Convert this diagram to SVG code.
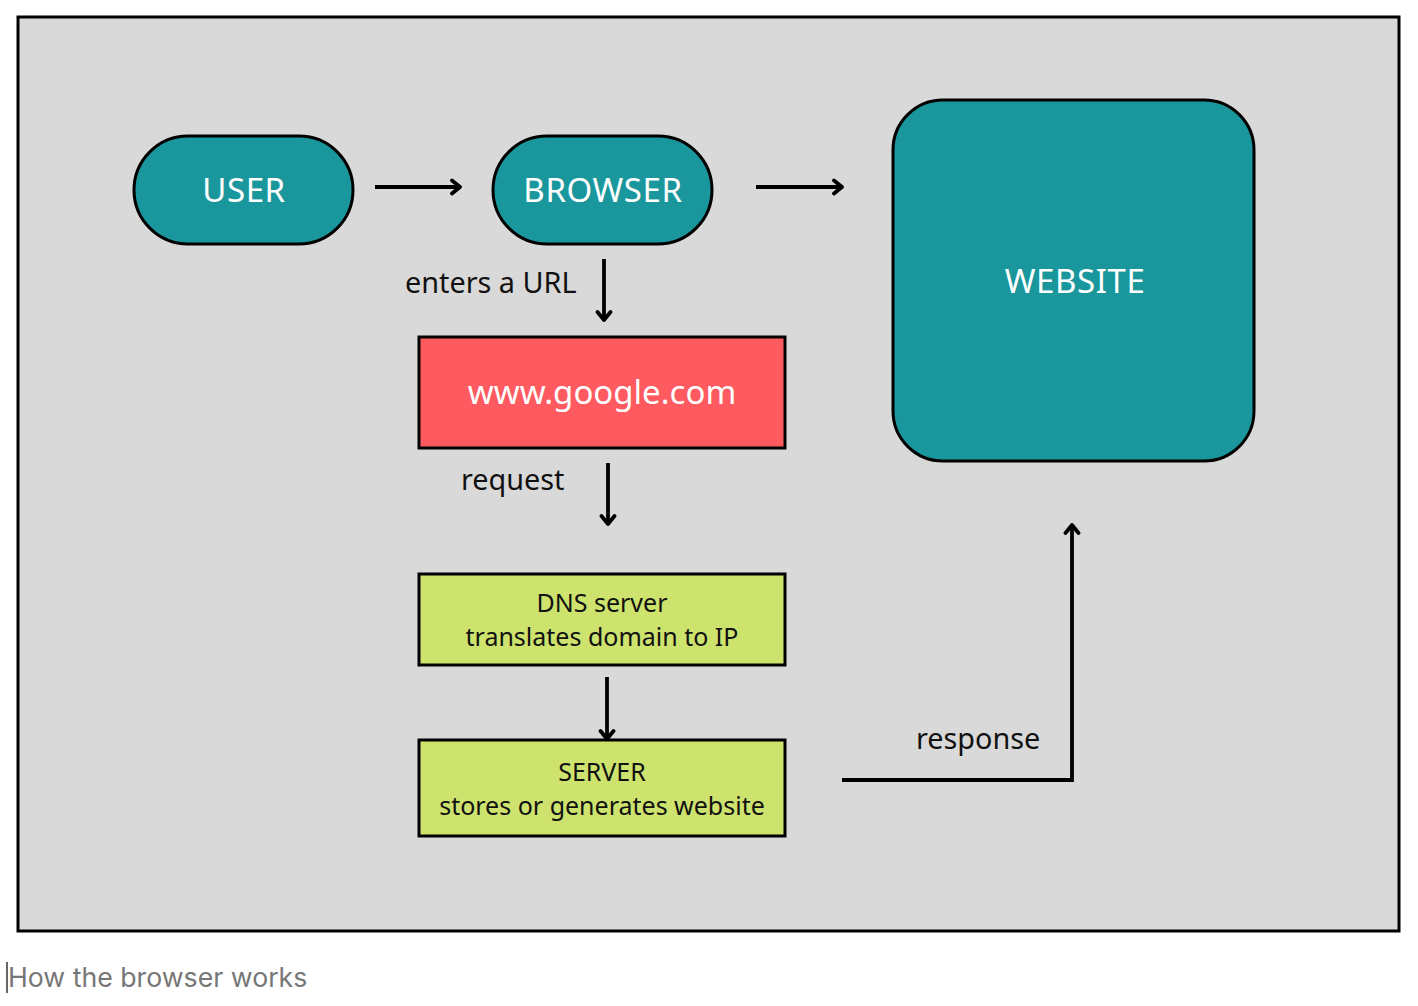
<svg xmlns="http://www.w3.org/2000/svg" width="1418" height="1006" viewBox="0 0 1418 1006">
<style>
.lbl{font-family:"Noto Sans","Open Sans",sans-serif;fill:#111;font-size:28.8px}
.wt{font-family:"Noto Sans","Open Sans",sans-serif;fill:#fff;font-size:33px;text-anchor:middle}
.caps{letter-spacing:0.6px}
.bt{font-family:"Noto Sans","Open Sans",sans-serif;fill:#111;font-size:25px;text-anchor:middle}
.teal{fill:#1a979c;stroke:#000;stroke-width:3}
.box{stroke:#000;stroke-width:3}
.conn{stroke:#000;stroke-width:3.8;fill:none}
</style>
<defs>
<marker id="ah" viewBox="0 0 14 18" refX="12" refY="9" markerWidth="14" markerHeight="18" markerUnits="userSpaceOnUse" orient="auto">
<path d="M4,2.5 L12,9 L4,15.5" fill="none" stroke="#000" stroke-width="3.8" stroke-linecap="round" stroke-linejoin="round"/>
</marker>
</defs>
<rect x="0" y="0" width="1418" height="1006" fill="#fff"/>
<rect x="18" y="17" width="1381" height="914" fill="#d9d9d9" stroke="#000" stroke-width="3"/>
<g id="user"><rect class="teal" x="134" y="136" width="219" height="108" rx="54"/><text class="wt caps" x="244" y="202">USER</text></g>
<g id="browser"><rect class="teal" x="493" y="136" width="219" height="108" rx="54"/><text class="wt caps" x="603" y="202">BROWSER</text></g>
<g id="website"><rect class="teal" x="893" y="100" width="361" height="361" rx="50"/><text class="wt caps" x="1075" y="293">WEBSITE</text></g>
<g id="url"><rect class="box" fill="#fe5a5f" x="419" y="337" width="366" height="111"/><text class="wt" x="602" y="404">www.google.com</text></g>
<g id="dns"><rect class="box" fill="#cde36e" x="419" y="574" width="366" height="91"/><text class="bt" x="602" y="612">DNS server</text><text class="bt" x="602" y="646">translates domain to IP</text></g>
<g id="server"><rect class="box" fill="#cde36e" x="419" y="740" width="366" height="96"/><text class="bt" x="602" y="781">SERVER</text><text class="bt" x="602" y="815">stores or generates website</text></g>
<g id="connectors">
<line class="conn" x1="375" y1="187" x2="460" y2="187" marker-end="url(#ah)"/>
<line class="conn" x1="756" y1="187" x2="842" y2="187" marker-end="url(#ah)"/>
<line class="conn" x1="604" y1="259" x2="604" y2="320" marker-end="url(#ah)"/>
<line class="conn" x1="608" y1="463" x2="608" y2="524" marker-end="url(#ah)"/>
<line class="conn" x1="607" y1="677" x2="607" y2="739" marker-end="url(#ah)"/>
<polyline class="conn" points="842,780 1072,780 1072,525" marker-end="url(#ah)"/>
<text class="lbl" x="405" y="293">enters a URL</text>
<text class="lbl" x="461" y="490">request</text>
<text class="lbl" x="916" y="749">response</text>
</g>
<line x1="7" y1="962" x2="7" y2="993" stroke="#333" stroke-width="1.5"/>
<text x="8" y="987" font-family="Inter,'Liberation Sans',sans-serif" font-size="26.7" fill="#777">How the browser works</text>
</svg>
